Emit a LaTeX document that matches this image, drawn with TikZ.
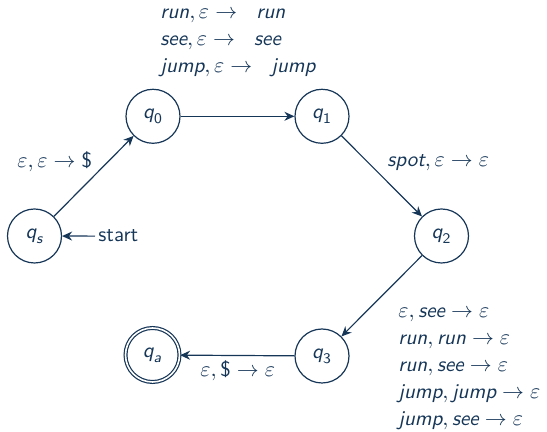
\documentclass[tikz,border=0pt]{standalone}
\usepackage{amsmath}
\usetikzlibrary{arrows.meta}
\definecolor{navy}{RGB}{22,54,88}
\newcommand\wrd[1]{\text{\slshape #1}}
\newcommand\qn[1]{$\wrd{q}_{\text{#1}}$}
\begin{document}
\begin{tikzpicture}[x=0.5pt,y=-0.5pt,
  every node/.style={text=navy, font=\sffamily\fontsize{10.5}{13.6}\selectfont},
  state/.style={circle, draw=navy, line width=0.6pt, minimum size=27pt, inner sep=0pt},
  accept/.style={state, double, double distance=0.8pt},
  edge/.style={draw=navy, line width=0.6pt, -{Stealth[length=5pt,width=4.5pt]}},
  lbl/.style={align=left, inner sep=0pt, anchor=base west}]
\useasboundingbox (0,0) rectangle (547,432);
\node[state] (qs) at (34.5,236) {\qn{\slshape s}};
\node[state] (q0) at (153,116.3) {\qn{0}};
\node[state] (q1) at (322,116.3) {\qn{1}};
\node[state] (q2) at (441.5,236) {\qn{2}};
\node[state] (q3) at (322,356) {\qn{3}};
\node[accept] (qa) at (152.5,355) {\qn{\slshape a}};
\node[lbl, inner sep=1.5pt] (start) at (95,242) {start};
\draw[edge] (start.west) -- (qs);
\draw[edge] (qs) -- (q0);
\draw[edge] (q0) -- (q1);
\draw[edge] (q1) -- (q2);
\draw[edge] (q2) -- (q3);
\draw[edge] (q3) -- (qa);
\node[lbl] (l0) at (17,168) {$\varepsilon,\varepsilon\to\text{\$}$};
\node[lbl] (l1) at (160,73) {$\wrd{run},\varepsilon\to\;\ \wrd{run}$\\
  $\wrd{see},\varepsilon\to\;\ \wrd{see}$\\
  $\wrd{jump},\varepsilon\to\;\ \wrd{jump}$};
\node[lbl] (l2) at (387,167) {$\wrd{spot},\varepsilon\to\varepsilon$};
\node[lbl] (l3) at (398,426) {$\varepsilon,\wrd{see}\to\varepsilon$\\
  $\wrd{run},\wrd{run}\to\varepsilon$\\
  $\wrd{run},\wrd{see}\to\varepsilon$\\
  $\wrd{jump},\wrd{jump}\to\varepsilon$\\
  $\wrd{jump},\wrd{see}\to\varepsilon$};
\node[lbl] (l4) at (200,377) {$\varepsilon,\text{\$}\to\varepsilon$};
\end{tikzpicture}
\end{document}
